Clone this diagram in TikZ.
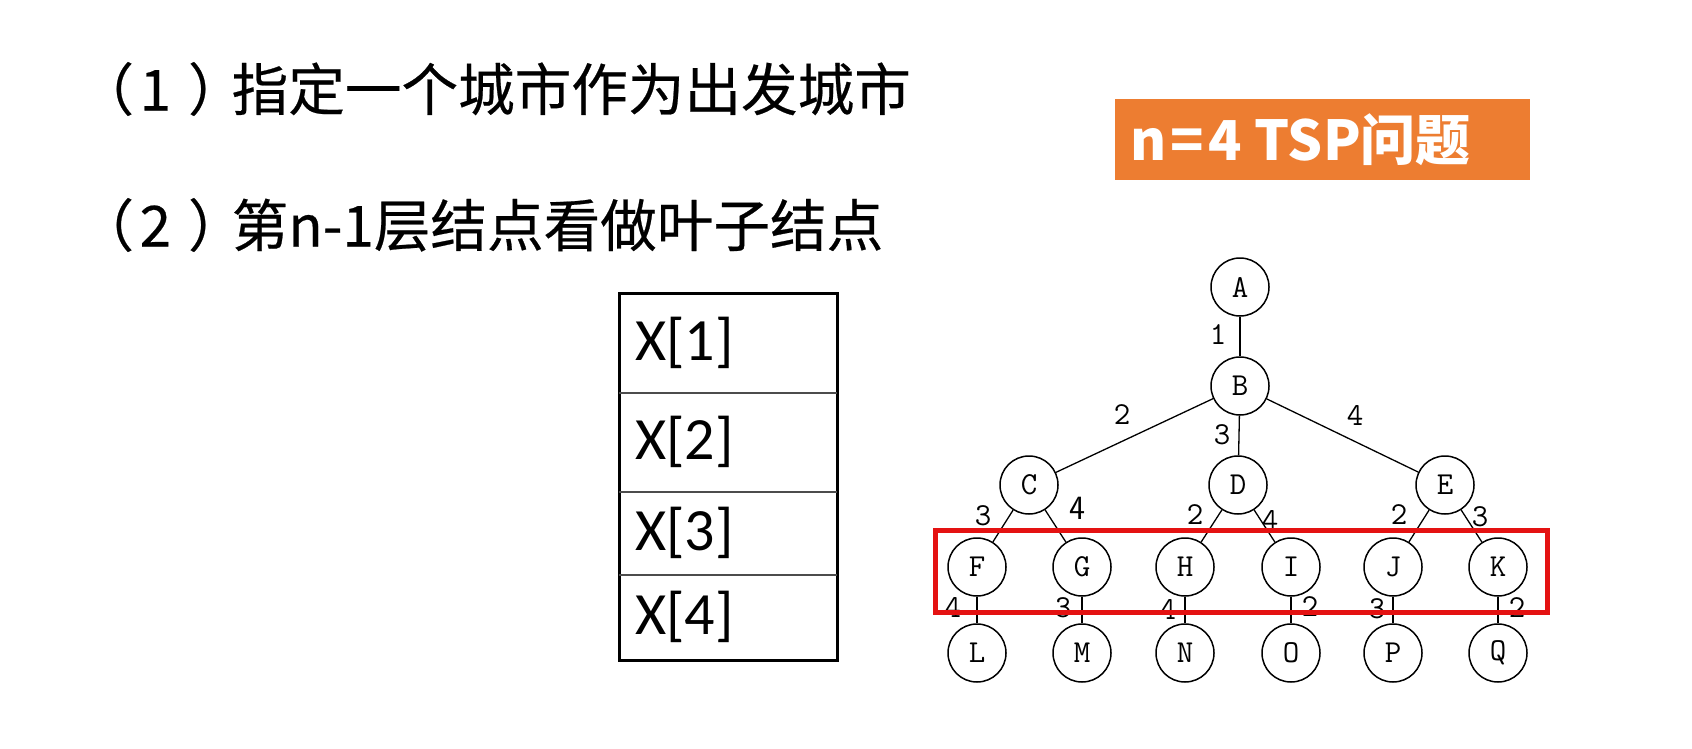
\documentclass[tikz,border=0pt]{standalone}
\usepackage{fontspec}
\setmainfont{Carlito}
\newfontfamily\cjk{Noto Sans CJK SC}
\newfontfamily\cjkheavy[FakeBold=0.4]{Noto Sans CJK SC}
\usetikzlibrary{positioning}
\definecolor{boxorange}{RGB}{237,125,49}
\definecolor{markred}{RGB}{228,18,18}
\tikzset{
  city/.style={circle, draw, line width=0.75pt, minimum size=29pt, inner sep=0pt, font=\ttfamily\fontsize{16}{16}\selectfont},
  branch/.style={line width=0.65pt},
  lbl/.style={inner sep=0pt, font=\ttfamily\fontsize{16}{16}\selectfont},
  headline/.style={anchor=west, inner sep=0pt, font=\cjkheavy\fontsize{28.3}{34}\selectfont},
  slot/.style={anchor=west, inner sep=0pt, font=\fontsize{30}{34}\selectfont},
  divider/.style={line width=0.75pt, black!70},
}
\begin{document}
\begin{tikzpicture}[x=0.5pt,y=-0.5pt]
  \useasboundingbox (0,0) rectangle (1692,749);
  \node[headline] (step1) at (77,89) {（\kern.1em1\kern.3em）\kern-.23em指定一个城市作为出发城市};
  \node[headline] (step2) at (77,225) {（\kern.1em2\kern.3em）\kern-.23em第n-1层结点看做叶子结点};
  \fill[boxorange] (1115,99) rectangle (1530,180);
  \node[anchor=west, inner sep=0pt, text=white, font=\cjk\bfseries\fontsize{27.5}{30}\selectfont] (title) at (1130,140) {n\kern2pt=\kern2pt4 TSP问题};
  % solution vector
  \draw[line width=1.5pt] (619,293) rectangle (837,660);
  \draw[divider] (619,393) -- (837,393);
  \draw[divider] (619,492) -- (837,492);
  \draw[divider] (619,575) -- (837,575);
  \node[slot] (x1) at (635,343) {X[1]};
  \node[slot] (x2) at (635,442) {X[2]};
  \node[slot] (x3) at (635,533) {X[3]};
  \node[slot] (x4) at (635,617) {X[4]};
  % tree
  \node[city] (A) at (1240,287) {A};
  \node[city] (B) at (1240,386) {B};
  \node[city] (C) at (1029,485) {C};
  \node[city] (D) at (1238,485) {D};
  \node[city] (E) at (1445,485) {E};
  \node[city] (F) at (977,567) {F};
  \node[city] (G) at (1082,567) {G};
  \node[city] (H) at (1185,567) {H};
  \node[city] (I) at (1291,567) {I};
  \node[city] (J) at (1393,567) {J};
  \node[city] (K) at (1498,567) {K};
  \node[city] (L) at (977,653) {L};
  \node[city] (M) at (1082,653) {M};
  \node[city] (N) at (1185,653) {N};
  \node[city] (O) at (1291,653) {O};
  \node[city] (P) at (1393,653) {P};
  \node[city] (Q) at (1498,653) {Q};
  \draw[branch] (A) -- (B);
  \draw[branch] (B) -- (C);
  \draw[branch] (B) -- (D);
  \draw[branch] (B) -- (E);
  \draw[branch] (C) -- (F);
  \draw[branch] (C) -- (G);
  \draw[branch] (D) -- (H);
  \draw[branch] (D) -- (I);
  \draw[branch] (E) -- (J);
  \draw[branch] (E) -- (K);
  \draw[branch] (F) -- (L);
  \draw[branch] (G) -- (M);
  \draw[branch] (H) -- (N);
  \draw[branch] (I) -- (O);
  \draw[branch] (J) -- (P);
  \draw[branch] (K) -- (Q);
  \node[lbl] (wAB) at (1218,335) {1};
  \node[lbl] (wBC) at (1122,415) {2};
  \node[lbl] (wBD) at (1222,435) {3};
  \node[lbl] (wBE) at (1355,415) {4};
  \node[lbl] (wCF) at (983,516) {3};
  \node[lbl, font=\sffamily\fontsize{17}{17}\selectfont] (wCG) at (1077,508) {4};
  \node[lbl] (wDH) at (1195,515) {2};
  \node[lbl] (wDI) at (1270,520) {4};
  \node[lbl] (wEJ) at (1399,515) {2};
  \node[lbl] (wEK) at (1480,517) {3};
  \node[lbl] (wFL) at (953,607) {4};
  \node[lbl] (wGM) at (1063,608) {3};
  \node[lbl] (wHN) at (1168,609) {4};
  \node[lbl] (wIO) at (1310,607) {2};
  \node[lbl] (wJP) at (1377,609) {3};
  \node[lbl] (wKQ) at (1517,608) {2};
  \draw[markred, line width=2.5pt] (935,530) rectangle (1547,612);
\end{tikzpicture}
\end{document}
